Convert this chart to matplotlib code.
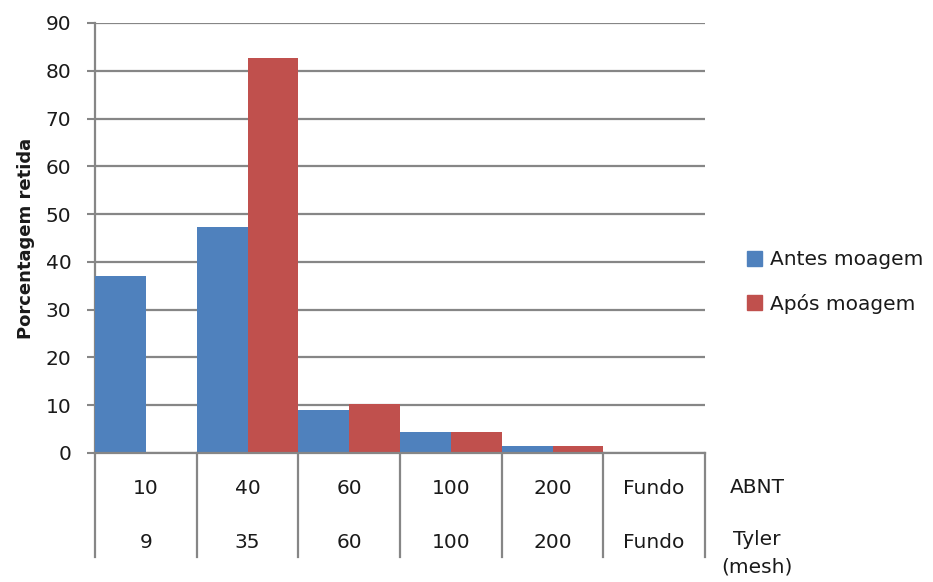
import matplotlib.pyplot as plt
import numpy as np
from matplotlib.patches import Patch

abnt = ["10", "40", "60", "100", "200", "Fundo"]
tyler = ["9", "35", "60", "100", "200", "Fundo"]
antes = [37.1, 47.2, 9.0, 4.3, 1.4, 0.0]
apos = [0.0, 82.7, 10.3, 4.3, 1.4, 0.0]

blue = "#4F81BD"
red = "#C0504D"
grey = "#868686"
txt = "#1a1a1a"
fs = 14.5

plt.rcParams["font.family"] = ["DejaVu Sans"]

fig = plt.figure(figsize=(9.33, 5.82), dpi=100)
ax = fig.add_axes([95 / 933, 1 - 453 / 582, 610 / 933, 430 / 582])

x = np.arange(len(abnt))
ax.bar(x, antes, width=0.5, align="edge", color=blue, zorder=3)
ax.bar(x + 0.5, apos, width=0.5, align="edge", color=red, zorder=3)

ax.set_xlim(0, len(abnt))
ax.set_ylim(0, 90)
ax.set_yticks(range(0, 91, 10))
ax.set_xticks([])
ax.tick_params(axis="y", length=6, width=1.5, color=grey, pad=11, labelsize=fs, labelcolor=txt)
ax.yaxis.grid(True, color=grey, linewidth=1.6, zorder=0)
for s in ["top", "right"]:
    ax.spines[s].set_visible(False)
for s in ["left", "bottom"]:
    ax.spines[s].set_color(grey)
    ax.spines[s].set_linewidth(1.6)
ax.spines["bottom"].set_zorder(4)

ax.set_ylabel("Porcentagem retida", fontsize=13, fontweight="bold", labelpad=8, color=txt)

# tabela de categorias abaixo do eixo
trans = ax.get_xaxis_transform()
for b in range(len(abnt) + 1):
    ax.plot([b, b], [0, -0.242], transform=trans, color=grey, linewidth=1.6, clip_on=False)
for i in range(len(abnt)):
    ax.text(i + 0.5, -0.083, abnt[i], transform=trans, ha="center", va="center", fontsize=fs, color=txt)
    ax.text(i + 0.5, -0.207, tyler[i], transform=trans, ha="center", va="center", fontsize=fs, color=txt)
ax.text(6.51, -0.081, "ABNT", transform=trans, ha="center", va="center", fontsize=fs, color=txt)
ax.text(6.51, -0.202, "Tyler", transform=trans, ha="center", va="center", fontsize=fs, color=txt)
ax.text(6.51, -0.265, "(mesh)", transform=trans, ha="center", va="center", fontsize=fs, color=txt)

handles = [Patch(color=blue, label="Antes moagem"), Patch(color=red, label="Após moagem")]
fig.legend(handles=handles, loc="center left", bbox_to_anchor=(747 / 933, 1 - 282 / 582),
           frameon=False, fontsize=fs, handlelength=0.75, handleheight=0.75,
           handletextpad=0.4, labelspacing=1.2, borderpad=0, borderaxespad=0,
           labelcolor=txt)

plt.savefig("out.png", dpi=100)
plt.close()
